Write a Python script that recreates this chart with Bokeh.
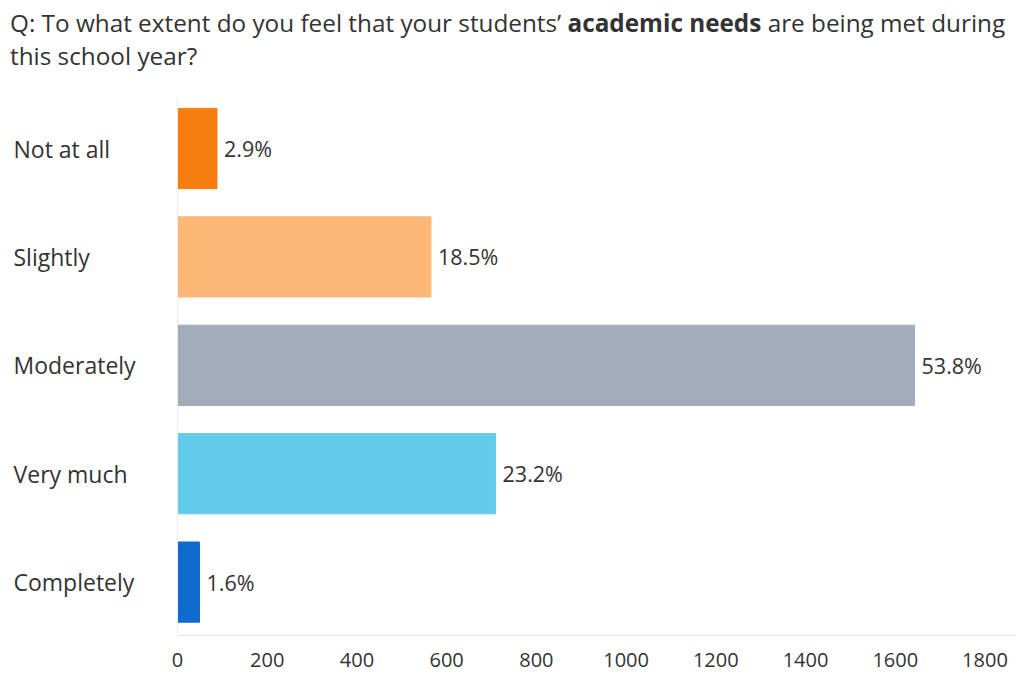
from bokeh.plotting import figure
from bokeh.models import Div, Range1d, FixedTicker, Span, ColumnDataSource
from bokeh.layouts import column
from bokeh.core.properties import value
from bokeh.embed import file_html
from bokeh.resources import INLINE

# ---- data ----
categories = ["Not at all", "Slightly", "Moderately", "Very much", "Completely"]
counts = [88, 565, 1643, 709, 49]
pct_labels = ["2.9%", "18.5%", "53.8%", "23.2%", "1.6%"]
colors = ["#F77D10", "#FDB878", "#A2ABB9", "#64CCEB", "#0F6BCD"]
x_ticks = [0, 200, 400, 600, 800, 1000, 1200, 1400, 1600, 1800]

FONT = "Open Sans"
TXT = "#333333"

# ---- layout helpers ----
W = 1016
px_per_unit = 0.4486
zero_px = 177
x_start = -zero_px / px_per_unit
x_end = (W - zero_px) / px_per_unit

band_px = 108.4
frame_h = 537
top_val = -50 / band_px
bot_val = top_val + frame_h / band_px

ypos = list(range(len(categories)))

src = ColumnDataSource(dict(
    cat=categories, y=ypos, cnt=counts, pct=pct_labels, col=colors,
    lx=[x_start] * len(categories),
))

title = Div(
    text=("Q: To what extent do you feel that your students\u2019 <b>academic needs</b> "
          "are being met during<br>this school year?"),
    width=W, height=88,
    styles={"font-family": FONT, "font-size": "24.3px", "color": TXT,
            "line-height": "33px", "position": "relative", "top": "1px",
            "padding-left": "5px", "white-space": "nowrap"},
)

p = figure(width=W, height=frame_h + 38, output_backend="svg", toolbar_location=None,
           x_range=Range1d(x_start, x_end), y_range=Range1d(bot_val, top_val),
           min_border_left=0, min_border_right=0, min_border_top=0, min_border_bottom=38)

p.add_layout(Span(location=0, dimension="height", line_color="#ececec", line_width=1))

p.hbar(y="y", left=0, right="cnt", height=0.74, color="col", source=src)

p.text(x="cnt", y="y", text="pct", source=src, x_offset=7,
       text_baseline="middle", text_align="left", text_font=value(FONT),
       text_font_size="21.5px", text_color=TXT)

p.text(x="lx", y="y", text="cat", source=src, x_offset=13,
       text_baseline="middle", text_align="left", text_font=value(FONT),
       text_font_size="23px", text_color=TXT)

p.xgrid.visible = False
p.ygrid.visible = False
p.yaxis.visible = False
p.outline_line_color = None

ax = p.xaxis[0]
ax.ticker = FixedTicker(ticks=x_ticks)
ax.bounds = (0, x_end)
ax.axis_line_color = "#e4e4e4"
ax.major_tick_line_color = None
ax.minor_tick_line_color = None
ax.major_label_standoff = 11
ax.major_label_text_font = FONT
ax.major_label_text_font_size = "20px"
ax.major_label_text_color = TXT

layout = column(title, p, spacing=0)
open("out.html", "w").write(file_html(layout, INLINE))
